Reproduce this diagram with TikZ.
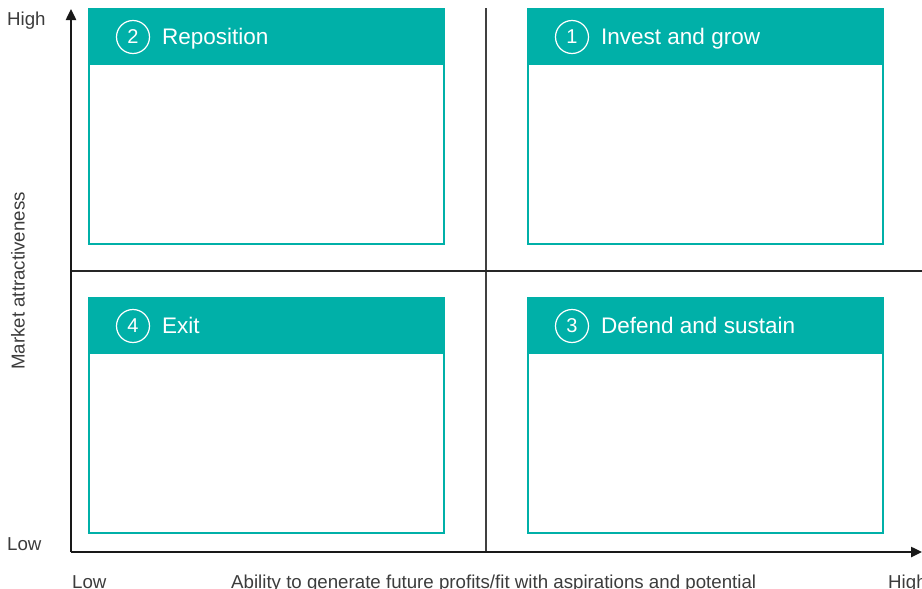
\documentclass[tikz,border=0pt]{standalone}
\usepackage{fontspec}
\setmainfont{Liberation Sans}
\usetikzlibrary{arrows.meta}
\definecolor{quadteal}{RGB}{0,176,168}
\definecolor{axisgray}{RGB}{60,60,60}
\tikzset{
  quadbox/.style={draw=quadteal, line width=1.2pt, fill=white},
  quadhead/.style={fill=quadteal},
  numcirc/.style={circle, draw=white, line width=1.2pt, minimum size=33pt, inner sep=0pt,
    text=white, font=\fontsize{20}{20}\selectfont},
  headtxt/.style={anchor=base west, inner sep=0pt, text=white, font=\fontsize{22.5}{22.5}\selectfont},
  axlabel/.style={inner sep=0pt, text=axisgray, font=\fontsize{18.7}{18.7}\selectfont},
}
\begin{document}
\begin{tikzpicture}[x=1pt,y=-1pt]
    \useasboundingbox (0,0) rectangle (922,589);
    % dividers
    \draw [line width=1.3pt, black!75] (486,8) -- (486,552);
    \draw [line width=1.3pt, black!85] (71,271) -- (922,271);
    % axes
    \coordinate (origin) at (71,552);
    \coordinate (ytip) at (71,9);
    \coordinate (xtip) at (922,552);
    \draw [line width=2.4pt, black!90, -{Triangle[length=11pt,width=10pt]}] (origin) -- (ytip);
    \draw [line width=2.4pt, black!90, -{Triangle[length=11pt,width=10pt]}] (origin) -- (xtip);
    % quadrants
    \foreach \x/\y/\n/\t in {89/9/2/Reposition, 528/9/1/Invest and grow, 89/298/4/Exit, 528/298/3/Defend and sustain}{
        \draw [quadbox] (\x,\y) rectangle ++(355,235);
        \fill [quadhead] (\x,\y) rectangle ++(355,56);
        \node [numcirc] (num\n) at (\x+44,\y+28) {\n};
        \node [headtxt] (head\n) at (\x+73,\y+35) {\t};
    }
    % axis labels
    \node [axlabel, anchor=base west] (yhigh) at (7,25) {High};
    \node [axlabel, anchor=base west] (ylow) at (7,550) {Low};
    \node [axlabel, anchor=base west] (xlow) at (72,588) {Low};
    \node [axlabel, anchor=base west] (xtitle) at (231,588) {Ability to generate future profits/fit with aspirations and potential};
    \node [axlabel, anchor=base west] (xhigh) at (888,588) {High};
    \node [axlabel, rotate=90] (ytitle) at (18,281) {Market attractiveness};
\end{tikzpicture}
\end{document}
